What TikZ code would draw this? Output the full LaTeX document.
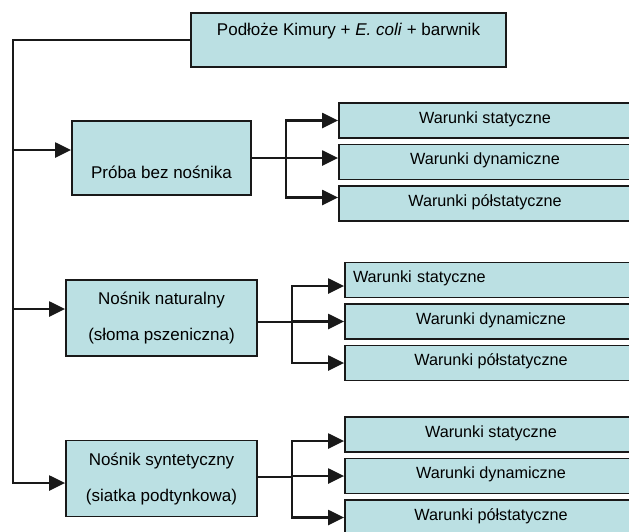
\documentclass[tikz,border=0pt]{standalone}
\usepackage{fontspec}
\setmainfont{Liberation Sans}
\usepackage{xcolor}
\usetikzlibrary{arrows.meta, positioning}
\definecolor{boxfill}{RGB}{187,224,227}
\definecolor{boxline}{RGB}{25,25,25}

\begin{document}
\begin{tikzpicture}[x=1pt, y=-1pt, node distance=41.5pt, >={Triangle[length=16pt,width=15pt]}]
    \tikzstyle{panel} = [rectangle, draw=boxline, fill=boxfill, line width=1.8pt, inner sep=0pt]
    \tikzstyle{stage} = [panel, minimum width=179pt, minimum height=74pt, font=\fontsize{17}{20}\selectfont]
    \tikzstyle{carrier} = [panel, minimum width=191pt, minimum height=76pt, align=center, font=\fontsize{17}{36}\selectfont]
    \tikzstyle{cond} = [panel, minimum width=292pt, minimum height=35pt, text height=12pt, text depth=7pt, font=\fontsize{16.2}{19}\selectfont]
    \tikzstyle{conn} = [draw=boxline, line width=2pt]
    \tikzstyle{arr} = [conn, ->, line width=2.3pt]
    \path [use as bounding box, clip] (0,0) rectangle (629,531);

    \node [panel, minimum width=315pt, minimum height=54pt, text height=12pt, text depth=22pt, font=\fontsize{17}{20}\selectfont] (top) at (348.5,40) {Podłoże Kimury + \textit{E. coli} + barwnik};
    \node [stage, text height=48pt, text depth=8pt] (bare) at (161.5,158) {Próba bez nośnika};
    \node [carrier] (nat) at (161.5,318) {Nośnik naturalny\\(słoma pszeniczna)};
    \node [carrier] (syn) at (161.5,478.5) {Nośnik syntetyczny\\(siatka podtynkowa)};

    % warunki
    \node [cond] (bare1) at (485,120.5) {Warunki statyczne};
    \node [cond, below of=bare1] (bare2) {Warunki dynamiczne};
    \node [cond, below of=bare2] (bare3) {Warunki półstatyczne};
    \node [cond, text width=276pt, align=left, inner xsep=8pt] (nat1) at (491,280) {Warunki statyczne};
    \node [cond, below of=nat1] (nat2) {Warunki dynamiczne};
    \node [cond, below of=nat2] (nat3) {Warunki półstatyczne};
    \node [cond] (syn1) at (491,434.5) {Warunki statyczne};
    \node [cond, below of=syn1] (syn2) {Warunki dynamiczne};
    \node [cond, below of=syn2] (syn3) {Warunki półstatyczne};

    \coordinate (trunk) at (13,40);
    \coordinate (in1) at (13,150);
    \coordinate (in2) at (13,309);
    \draw [arr] (top.west) -- (trunk) |- ([yshift=-4.5pt]syn.west);
    \draw [arr] (in1) -- (in1 -| bare.west);
    \draw [arr] (in2) -- (in2 -| nat.west);

    \coordinate (fork1) at (286,158);
    \draw [conn] (bare.east) -- (fork1);
    \draw [arr] (fork1) |- (bare1.west);
    \draw [arr] (fork1) |- ([yshift=4pt]bare2.west);
    \draw [arr] (fork1) |- ([yshift=6pt]bare3.west);

    \coordinate (fork2) at (292,322);
    \draw [conn] (nat.east |- fork2) -- (fork2);
    \draw [arr] (fork2) |- ([yshift=-6pt]nat1.west);
    \draw [arr] (fork2) |- (nat2.west);
    \draw [arr] (fork2) |- (nat3.west);

    \coordinate (fork3) at (292,477);
    \draw [conn] (syn.east |- fork3) -- (fork3);
    \draw [arr] (fork3) |- ([yshift=-6.5pt]syn1.west);
    \draw [arr] (fork3) |- (syn2.west);
    \draw [arr] (fork3) |- (syn3.west);
\end{tikzpicture}
\end{document}
